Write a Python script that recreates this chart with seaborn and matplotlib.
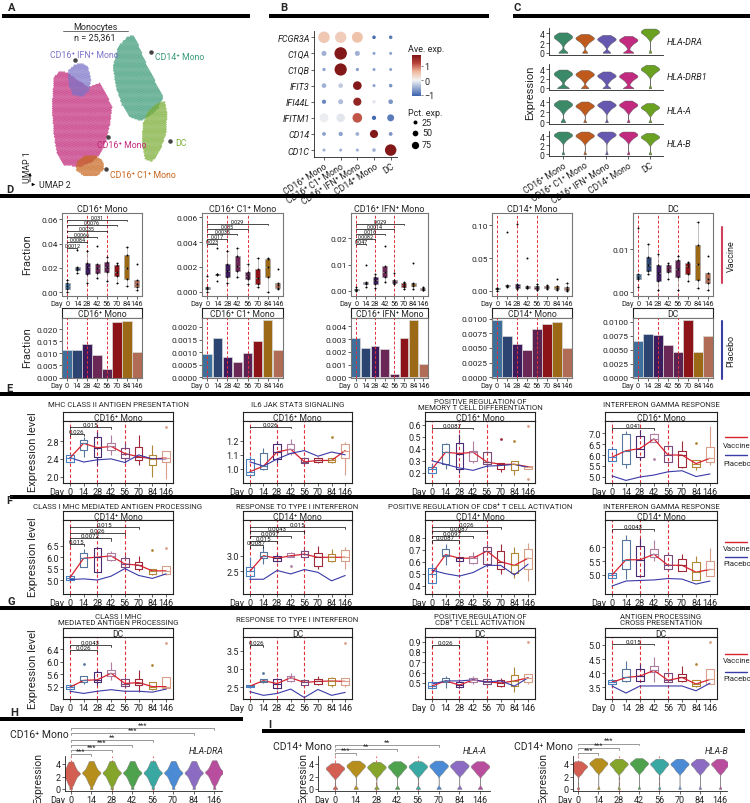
import numpy as np
import pandas as pd
import matplotlib
matplotlib.use("Agg")
import matplotlib.pyplot as plt
import matplotlib.transforms as mtransforms
from matplotlib.lines import Line2D
from matplotlib.patches import Rectangle
from matplotlib.path import Path
from matplotlib.colors import Normalize, LinearSegmentedColormap
from matplotlib.cm import ScalarMappable
from matplotlib.ticker import FormatStrFormatter
import seaborn as sns

# ======================= DATA =======================
DAYS = ["0", "14", "28", "42", "56", "70", "84", "146"]
CELL_TYPES = ["CD16⁺ Mono", "CD16⁺ C1⁺ Mono", "CD16⁺ IFN⁺ Mono", "CD14⁺ Mono", "DC"]

# ---- A: UMAP cluster outlines (UMAP layout units)
UMAP_CLUSTERS = ["CD16⁺ Mono", "CD16⁺ IFN⁺ Mono", "CD16⁺ C1⁺ Mono", "CD14⁺ Mono", "DC"]
umap_outline_cd16 = [(54, 78), (60, 72), (68, 74), (76, 80), (88, 88), (100, 84), (105, 92), (112, 108),
                     (110, 125), (106, 142), (100, 155), (92, 163), (80, 168), (64, 166), (57, 155),
                     (54, 135), (52, 110)]
umap_outline_ifn = [(68, 72), (74, 66), (82, 64), (88, 68), (91, 80), (89, 92), (82, 98), (73, 96), (69, 86)]
umap_outline_c1 = [(77, 163), (84, 157), (95, 156), (103, 162), (104, 170), (97, 177), (84, 177), (76, 171)]
umap_outline_cd14 = [(118, 48), (127, 38), (133, 36), (138, 45), (145, 62), (155, 82), (163, 98), (158, 110),
                     (148, 118), (140, 122), (130, 118), (122, 106), (116, 88), (113, 68)]
umap_outline_dc = [(148, 112), (158, 104), (165, 102), (167, 115), (166, 135), (160, 152), (152, 163),
                   (145, 160), (142, 145), (143, 125)]
UMAP_N = "n = 25,361"

# ---- B: dot plot
DOT_GENES = ["FCGR3A", "C1QA", "C1QB", "IFIT3", "IFI44L", "IFITM1", "CD14", "CD1C"]
ave_exp = [[0.45, 0.40, 0.50, -1.00, -0.90],
           [-0.50, 1.70, -0.50, -0.60, -0.60],
           [-0.60, 1.70, -0.60, -0.60, -0.60],
           [-0.50, -0.30, 1.70, -0.60, -0.70],
           [-0.80, -0.40, 1.55, -0.10, -0.70],
           [-0.05, -0.10, 1.10, -1.05, -0.90],
           [-0.60, -0.60, -0.50, 1.70, -0.70],
           [-0.50, -0.50, -0.50, -0.50, 1.70]]
pct_exp = [[72, 70, 65, 5, 5],
           [12, 85, 12, 3, 3],
           [4, 82, 4, 3, 3],
           [10, 10, 40, 3, 5],
           [8, 12, 35, 5, 10],
           [42, 38, 50, 8, 25],
           [6, 8, 6, 35, 6],
           [3, 3, 3, 5, 72]]

# ---- C: violin centres / zero counts
C_GENES = ["HLA-DRA", "HLA-DRB1", "HLA-A", "HLA-B"]
c_centers = [[3.3, 3.0, 2.8, 2.6, 4.3],
             [3.0, 2.9, 2.6, 2.5, 4.0],
             [3.6, 3.3, 3.5, 3.5, 3.0],
             [4.2, 4.1, 4.3, 4.3, 3.8]]
c_zero_counts = [[3, 1, 2, 3, 0],
                 [4, 2, 2, 3, 0],
                 [1, 0, 0, 0, 0],
                 [0, 0, 0, 0, 0]]
c_shape = [-1.3, -0.9, -0.6, -0.4, -0.25, -0.1, 0.0, 0.05, 0.15, 0.3, 0.45, 0.65, 0.9]

# ---- D: vaccine fractions (lo, q1, median, q3, hi per day)
d_vac_cd16 = [[0.000, 0.003, 0.005, 0.008, 0.010], [0.016, 0.018, 0.020, 0.021, 0.035],
              [0.008, 0.015, 0.021, 0.024, 0.034], [0.012, 0.016, 0.020, 0.023, 0.038],
              [0.009, 0.017, 0.021, 0.025, 0.029], [0.008, 0.013, 0.017, 0.022, 0.024],
              [0.005, 0.011, 0.020, 0.031, 0.037], [0.002, 0.004, 0.007, 0.010, 0.023]]
d_vac_c1 = [[0.0000, 0.0002, 0.0003, 0.0004, 0.0013], [0.0009, 0.00135, 0.0014, 0.00145, 0.0035],
            [0.0007, 0.0012, 0.0017, 0.0022, 0.0033], [0.0012, 0.0017, 0.0021, 0.0029, 0.0035],
            [0.0006, 0.0010, 0.0013, 0.0016, 0.0022], [0.0004, 0.0006, 0.0011, 0.0018, 0.0027],
            [0.0000, 0.0012, 0.0020, 0.0026, 0.0027], [0.0002, 0.0003, 0.0005, 0.0007, 0.0018]]
d_vac_ifn = [[0.0000, 0.0002, 0.0004, 0.0006, 0.0015], [0.0015, 0.0025, 0.0030, 0.0033, 0.0098],
             [0.0012, 0.0028, 0.0040, 0.0052, 0.0065], [0.0035, 0.0055, 0.0072, 0.0095, 0.0172],
             [0.0025, 0.0032, 0.0037, 0.0043, 0.0068], [0.0008, 0.0015, 0.0022, 0.0030, 0.0035],
             [0.0008, 0.0018, 0.0025, 0.0030, 0.0108], [0.0002, 0.0005, 0.0009, 0.0012, 0.0015]]
d_vac_cd14 = [[0.000, 0.002, 0.003, 0.004, 0.005], [0.006, 0.007, 0.008, 0.009, 0.090],
              [0.003, 0.005, 0.007, 0.010, 0.102], [0.004, 0.005, 0.006, 0.008, 0.050],
              [0.001, 0.003, 0.006, 0.008, 0.010], [0.002, 0.004, 0.006, 0.008, 0.009],
              [0.001, 0.003, 0.005, 0.007, 0.018], [0.000, 0.001, 0.003, 0.006, 0.012]]
d_vac_dc = [[0.0012, 0.0030, 0.0035, 0.0042, 0.0150], [0.0043, 0.0050, 0.0063, 0.0083, 0.0113],
            [0.0005, 0.0025, 0.0045, 0.0063, 0.0090], [0.0030, 0.0048, 0.0055, 0.0063, 0.0068],
            [0.0005, 0.0035, 0.0055, 0.0075, 0.0085], [0.0025, 0.0042, 0.0060, 0.0068, 0.0070],
            [0.0010, 0.0028, 0.0065, 0.0110, 0.0165], [0.0005, 0.0022, 0.0030, 0.0045, 0.0085]]
# placebo fractions
d_pbo_cd16 = [0.0113, 0.0116, 0.0140, 0.0095, 0.0035, 0.0230, 0.0235, 0.0105]
d_pbo_c1 = [0.00093, 0.00155, 0.00080, 0.00062, 0.00096, 0.00143, 0.00228, 0.00107]
d_pbo_ifn = [0.00305, 0.00230, 0.00243, 0.00220, 0.00030, 0.00310, 0.00450, 0.00105]
d_pbo_cd14 = [0.0098, 0.0071, 0.0057, 0.0047, 0.0083, 0.0090, 0.0095, 0.0050]
d_pbo_dc = [0.0065, 0.0078, 0.0077, 0.0058, 0.0045, 0.0103, 0.0045, 0.0074]
# p-values (end day index, label), all versus Day 0
d_p_cd16 = [(1, "0.0012"), (2, "0.0084"), (3, "0.0066"), (4, "0.0035"), (5, "0.0076"), (6, "0.031")]
d_p_c1 = [(1, "0.023"), (2, "0.017"), (3, "0.0035"), (4, "0.035"), (6, "0.029")]
d_p_ifn = [(1, "0.047"), (2, "0.0082"), (3, "0.016"), (4, "0.0014"), (5, "0.029")]

# ---- E/F/G: pathway scores (vaccine box stats), placebo line, p-values
e1_vac = [[2.30, 2.32, 2.42, 2.49, 2.50], [2.45, 2.60, 2.75, 2.82, 2.90], [2.26, 2.45, 2.65, 2.90, 3.00],
          [2.49, 2.60, 2.68, 2.75, 2.93], [2.30, 2.41, 2.52, 2.64, 2.75], [2.26, 2.37, 2.45, 2.67, 2.93],
          [2.00, 2.26, 2.40, 2.49, 2.71], [1.96, 2.32, 2.42, 2.58, 3.12]]
e1_pbo = [2.43, 2.33, 2.38, 2.40, 2.32, 2.49, 2.40, 2.40]
e1_p = [(1, "0.026"), (3, "0.015")]
e2_vac = [[0.96, 0.96, 0.98, 1.07, 1.09], [0.99, 1.00, 1.02, 1.11, 1.15], [1.04, 1.07, 1.12, 1.175, 1.20],
          [1.10, 1.11, 1.14, 1.175, 1.21], [1.035, 1.04, 1.05, 1.08, 1.085], [1.045, 1.05, 1.06, 1.08, 1.085],
          [1.045, 1.05, 1.06, 1.075, 1.225], [0.96, 1.08, 1.13, 1.175, 1.19]]
e2_pbo = [1.05, 1.02, 1.07, 1.11, 1.13, 1.09, 1.12, 1.10]
e2_p = [(3, "0.026")]
e3_vac = [[0.19, 0.20, 0.23, 0.25, 0.27], [0.23, 0.27, 0.37, 0.44, 0.45], [0.20, 0.23, 0.36, 0.45, 0.52],
          [0.28, 0.30, 0.37, 0.38, 0.46], [0.24, 0.27, 0.29, 0.37, 0.38], [0.21, 0.23, 0.27, 0.28, 0.48],
          [0.18, 0.22, 0.27, 0.30, 0.46], [0.15, 0.23, 0.25, 0.26, 0.59]]
e3_pbo = [0.30, 0.27, 0.24, 0.22, 0.255, 0.26, 0.27, 0.245]
e3_p = [(3, "0.0087")]
e4_vac = [[5.70, 5.73, 5.90, 6.29, 6.35], [5.38, 5.60, 6.20, 6.97, 7.10], [5.75, 5.90, 6.30, 6.90, 7.15],
          [5.83, 6.60, 6.75, 6.97, 7.00], [5.65, 5.68, 6.00, 6.40, 6.45], [5.38, 5.45, 6.00, 6.18, 6.67],
          [5.30, 5.45, 5.60, 5.79, 6.55], [5.53, 5.68, 5.85, 6.36, 7.35]]
e4_pbo = [5.03, 4.82, 4.98, 5.07, 5.22, 5.27, 5.00, 5.12]
e4_p = [(3, "0.041")]
f1_vac = [[5.00, 5.02, 5.10, 5.19, 5.22], [5.55, 5.58, 5.95, 6.20, 6.35], [5.30, 5.33, 6.00, 6.38, 6.42],
          [5.85, 5.87, 6.05, 6.20, 6.25], [5.48, 5.58, 5.70, 5.96, 6.10], [5.38, 5.48, 5.65, 5.77, 6.06],
          [5.24, 5.26, 5.40, 5.48, 6.30], [5.20, 5.26, 5.40, 5.63, 6.40]]
f1_pbo = [5.02, 5.05, 5.00, 5.17, 5.50, 5.20, 5.07, 5.27]
f1_p = [(1, "0.015"), (3, "0.0072"), (4, "0.026"), (5, "0.015")]
f2_vac = [[2.25, 2.36, 2.50, 2.63, 2.95], [2.73, 2.93, 3.00, 3.13, 3.27], [2.80, 2.84, 2.92, 3.00, 3.05],
          [2.68, 2.95, 3.00, 3.10, 3.13], [2.95, 2.97, 3.05, 3.16, 3.20], [2.57, 2.68, 2.95, 3.10, 3.32],
          [2.80, 2.84, 2.95, 3.05, 3.22], [2.57, 2.84, 2.95, 3.18, 3.27]]
f2_pbo = [2.25, 2.25, 2.53, 2.42, 2.56, 2.47, 2.20, 2.37]
f2_p = [(1, "0.0087"), (2, "0.015"), (3, "0.0097"), (4, "0.0043"), (7, "0.015")]
f3_vac = [[0.41, 0.42, 0.50, 0.55, 0.58], [0.57, 0.65, 0.66, 0.71, 0.75], [0.60, 0.61, 0.63, 0.64, 0.65],
          [0.58, 0.59, 0.63, 0.65, 0.68], [0.56, 0.58, 0.69, 0.72, 0.75], [0.50, 0.54, 0.60, 0.69, 0.75],
          [0.46, 0.51, 0.57, 0.67, 0.72], [0.44, 0.54, 0.63, 0.71, 0.76]]
f3_pbo = [0.53, 0.50, 0.48, 0.51, 0.57, 0.57, 0.49, 0.58]
f3_p = [(2, "0.0087"), (3, "0.0097"), (4, "0.0087"), (5, "0.026")]
f4_vac = [[4.87, 4.89, 5.00, 5.06, 5.10], [4.86, 5.22, 5.55, 6.26, 6.46], [4.98, 4.98, 5.55, 6.06, 6.33],
          [5.52, 5.66, 5.75, 5.94, 6.26], [5.18, 5.22, 5.35, 5.73, 5.80], [5.13, 5.13, 5.35, 5.58, 5.76],
          [4.80, 4.80, 5.10, 5.46, 5.70], [4.98, 4.98, 5.20, 5.52, 5.98]]
f4_pbo = [4.60, 4.78, 4.80, 4.82, 4.87, 4.85, 4.67, 4.78]
f4_p = [(3, "0.0043")]
g1_vac = [[5.10, 5.12, 5.18, 5.25, 5.28], [5.30, 5.34, 5.40, 5.53, 5.93], [5.25, 5.34, 5.42, 5.66, 5.75],
          [5.40, 5.53, 5.63, 5.75, 6.00], [5.15, 5.21, 5.30, 5.45, 5.50], [5.02, 5.25, 5.33, 5.45, 5.74],
          [5.10, 5.12, 5.20, 5.34, 5.90], [5.12, 5.15, 5.20, 5.50, 6.60]]
g1_pbo = [5.05, 4.98, 5.05, 5.10, 5.05, 5.05, 5.02, 5.12]
g1_p = [(2, "0.026"), (3, "0.0043")]
g2_vac = [[2.49, 2.50, 2.53, 2.56, 2.57], [2.62, 2.64, 2.68, 2.73, 2.88], [2.45, 2.47, 2.60, 2.73, 2.75],
          [2.65, 2.68, 2.76, 2.82, 2.90], [2.55, 2.56, 2.63, 2.70, 2.72], [2.55, 2.59, 2.66, 2.73, 2.82],
          [2.52, 2.56, 2.67, 2.75, 2.79], [2.50, 2.55, 2.66, 2.75, 3.70]]
g2_pbo = [2.38, 2.28, 2.33, 2.45, 2.22, 2.44, 2.28, 2.36]
g2_p = [(1, "0.026")]
g3_vac = [[0.44, 0.45, 0.47, 0.51, 0.52], [0.45, 0.51, 0.52, 0.55, 0.57], [0.45, 0.46, 0.48, 0.51, 0.52],
          [0.49, 0.51, 0.53, 0.55, 0.57], [0.48, 0.49, 0.51, 0.54, 0.55], [0.46, 0.47, 0.50, 0.53, 0.55],
          [0.41, 0.47, 0.52, 0.58, 0.65], [0.49, 0.51, 0.55, 0.59, 0.90]]
g3_pbo = [0.49, 0.52, 0.52, 0.53, 0.51, 0.52, 0.47, 0.55]
g3_p = [(2, "0.026")]
g4_vac = [[3.60, 3.62, 3.68, 3.77, 3.80], [3.68, 3.74, 3.85, 4.15, 4.44], [3.68, 3.74, 3.90, 4.15, 4.33],
          [3.70, 4.03, 4.10, 4.26, 4.56], [3.68, 3.70, 3.75, 4.00, 4.05], [3.70, 3.74, 3.85, 3.97, 4.26],
          [3.52, 3.56, 3.62, 3.77, 4.32], [3.62, 3.62, 3.78, 4.15, 5.10]]
g4_pbo = [3.55, 3.30, 3.55, 3.55, 3.55, 3.55, 3.38, 3.65]
g4_p = [(3, "0.015")]

# ---- H / I: violin centres by day
h_centers = [2.5, 2.6, 2.6, 2.6, 2.6, 2.6, 2.6, 2.7]
h_zero_counts = [0, 0, 0, 0, 0, 0, 0, 0]
h_shape = [-1.9, -1.6, -1.35, -1.15, -0.95, -0.8, -0.65, -0.5, -0.38, -0.25, -0.12, -0.05, 0.0,
           0.05, 0.12, 0.25, 0.38, 0.5, 0.65, 0.8, 0.95, 1.15, 1.35, 1.6, 1.9]
h_p = [(1, "***"), (2, "***"), (3, "***"), (4, "**"), (6, "***"), (7, "***")]
i1_centers = [3.3, 3.7, 3.5, 3.6, 3.6, 3.7, 3.7, 3.6]
i1_zero_counts = [1, 1, 1, 1, 1, 1, 1, 1]
i1_p = [(1, "***"), (3, "**"), (5, "**")]
i2_centers = [3.6, 4.1, 4.0, 4.1, 4.0, 4.0, 4.0, 4.0]
i2_zero_counts = [0, 0, 0, 0, 0, 0, 0, 0]
i2_p = [(1, "***"), (2, "***"), (3, "***")]
i_shape = [-1.3, -1.1, -0.9, -0.75, -0.6, -0.48, -0.36, -0.25, -0.15, -0.07, 0.0, 0.05, 0.12, 0.2,
           0.3, 0.42, 0.55, 0.7, 0.85]

# ======================= STYLE =======================
sns.set_theme(style="ticks")
plt.rcParams["font.family"] = ["Roboto", "DejaVu Sans"]
plt.rcParams.update({
    "axes.linewidth": 0.6, "axes.edgecolor": "#222222",
    "xtick.major.width": 0.5, "ytick.major.width": 0.5,
    "xtick.major.size": 2, "ytick.major.size": 2,
    "xtick.major.pad": 1, "ytick.major.pad": 1,
    "xtick.color": "#222222", "ytick.color": "#222222",
})

UMAP_COLORS = ["#c2287a", "#7b73c8", "#c8661e", "#3b9a78", "#7aae35"]
C_COLORS = ["#3a8a68", "#c05a1c", "#6658b0", "#c22a80", "#6aa121"]
DAY_FILL = ["#3f6f9b", "#2c4472", "#3c1c5c", "#6b2857", "#5c2352", "#8c1418", "#9c6a16", "#b06c55"]
DAY_EDGE = ["#4a80bd", "#56789f", "#4a2a70", "#b07ea2", "#7a4a7a", "#a02838", "#b08838", "#d8a088"]
H_COLORS = ["#d35f52", "#b58e1b", "#85a52a", "#4ea24e", "#3aa8a2", "#4b8bd6", "#8b6cc2", "#ba4e9e"]
RED_DASH = "#e0303a"
VAC_RED = "#d8232f"
PBO_BLUE = "#3a3aa8"

W, H = 750, 804
fig = plt.figure(figsize=(7.5, 8.04), dpi=100)


def px_ax(x0, y0, x1, y1):
    return fig.add_axes([x0 / W, 1 - y1 / H, (x1 - x0) / W, (y1 - y0) / H])


def ftext(x, y, s, **kw):
    fig.text(x / W, 1 - y / H, s, **kw)


def fbar(x0, x1, y, h=4.0):
    fig.add_artist(Rectangle((x0 / W, 1 - (y + h / 2) / H), (x1 - x0) / W, h / H,
                             transform=fig.transFigure, color="black", lw=0))


def fline(xs, ys, **kw):
    fig.add_artist(Line2D([x / W for x in xs], [1 - y / H for y in ys], transform=fig.transFigure, **kw))


def day_axis(ax, fs=6.2):
    ax.set_xticks(range(len(DAYS)))
    ax.set_xticklabels(DAYS, fontsize=fs)
    tr = mtransforms.blended_transform_factory(ax.transData, ax.transAxes) + \
        mtransforms.ScaledTranslation(-fs * 0.62 / 72, -3.0 / 72, fig.dpi_scale_trans)
    ax.text(0, 0, "Day", transform=tr, ha="right", va="top", fontsize=fs)


def strip(x0, x1, y0, y1, text, fs=6.2):
    sa = px_ax(x0, y0, x1, y1)
    sa.set_xticks([])
    sa.set_yticks([])
    sa.set_facecolor("white")
    for s in sa.spines.values():
        s.set_color("#222222")
        s.set_linewidth(0.8)
    sa.text(0.5, 0.42, text, ha="center", va="center", fontsize=fs, transform=sa.transAxes)


def bracket(ax, x1, y, label, tip, fs=4.6, color="black", x0=0):
    ax.plot([x0, x0, x1, x1], [y - tip, y, y, y - tip], color=color, lw=0.5, clip_on=False)
    ax.text((x0 + x1) / 2, y, label, ha="center", va="bottom", fontsize=fs, color="#111111",
            linespacing=0.8)


def long_df(stats):
    rows = []
    for i, vals in enumerate(stats):
        for v in vals:
            rows.append({"day": DAYS[i], "pos": i, "val": v})
    return pd.DataFrame(rows)


# ======================= SECTION BARS & LETTERS =======================
for (x0, x1, y) in [(2, 250, 17), (269, 489, 17), (513, 750, 17), (0, 750, 197), (0, 750, 395),
                    (10, 750, 498), (0, 750, 609), (0, 243, 720), (262, 745, 732)]:
    fbar(x0, x1, y)
for (x, y, s) in [(8, 8, "A"), (280, 8, "B"), (513, 8, "C"), (6, 190, "D"), (6, 389, "E"),
                  (6, 501, "F"), (8, 602, "G"), (10, 713, "H"), (268, 725, "I")]:
    ftext(x, y, s, fontsize=8, fontweight="bold", va="center", ha="left")

# ======================= A: UMAP =======================
axA = px_ax(0, 22, 250, 192)


def grid_in(outline, step=1.3):
    path = Path(outline)
    xs = [p[0] for p in outline]
    ys = [p[1] for p in outline]
    gx = np.arange(min(xs), max(xs) + step, step)
    gy = np.arange(min(ys), max(ys) + step, step * 0.87)
    X, Y = np.meshgrid(gx, gy)
    X = X + (np.arange(len(gy))[:, None] % 2) * step / 2
    pts = np.column_stack([X.ravel(), Y.ravel()])
    return pts[path.contains_points(pts)]


outlines = [umap_outline_cd16, umap_outline_ifn, umap_outline_c1, umap_outline_cd14, umap_outline_dc]
frames = []
for name, outl in zip(UMAP_CLUSTERS, outlines):
    pts = grid_in(outl)
    frames.append(pd.DataFrame({"u2": pts[:, 0], "u1": pts[:, 1], "cluster": name}))
umap_df = pd.concat(frames, ignore_index=True)
sns.scatterplot(data=umap_df, x="u2", y="u1", hue="cluster", hue_order=UMAP_CLUSTERS,
                palette=UMAP_COLORS, s=1.2, linewidth=0, alpha=0.75, legend=False, ax=axA)
axA.set_xlim(0, 250)
axA.set_ylim(192, 22)
axA.axis("off")
umap_labels = [("CD16⁺ IFN⁺ Mono", (75, 61), (50, 55), "left", UMAP_COLORS[1]),
               ("CD14⁺ Mono", (151, 53), (155, 57), "left", UMAP_COLORS[3]),
               ("CD16⁺ Mono", (108, 138), (97, 146), "left", UMAP_COLORS[0]),
               ("DC", (170, 142), (175, 143), "left", UMAP_COLORS[4]),
               ("CD16⁺ C1⁺ Mono", (106, 170), (110, 176), "left", UMAP_COLORS[2])]
for txt, dot, pos, ha, col in umap_labels:
    axA.scatter([dot[0]], [dot[1]], s=5, color="#444444", zorder=5)
    axA.text(pos[0], pos[1], txt, color=col, fontsize=6.3, ha=ha, va="center", zorder=6)
ftext(95, 27, "Monocytes", ha="center", va="center", fontsize=6.5)
fline([63, 128], [32, 32], color="#555555", lw=0.6)
ftext(95, 38, UMAP_N, ha="center", va="center", fontsize=6.5)
axA.annotate("", xy=(30, 171), xytext=(30, 185.5), arrowprops=dict(arrowstyle="-|>", lw=0.6, color="black",
                                                                    mutation_scale=4))
axA.annotate("", xy=(38, 185.5), xytext=(29.7, 185.5), arrowprops=dict(arrowstyle="-|>", lw=0.6,
                                                                       color="black", mutation_scale=4))
axA.text(27, 167, "UMAP 1", rotation=90, ha="center", va="center", fontsize=6.3)
axA.text(39, 186, "UMAP 2", ha="left", va="center", fontsize=6.3)

# ======================= B: dot plot =======================
axB = px_ax(314, 32, 397, 158)
dot_rows = []
for gi, g in enumerate(DOT_GENES):
    for ci, c in enumerate(CELL_TYPES):
        dot_rows.append({"xi": ci, "yi": gi, "ave": ave_exp[gi][ci], "pct": pct_exp[gi][ci]})
dot_df = pd.DataFrame(dot_rows)
dot_cmap = LinearSegmentedColormap.from_list(
    "avexp", [(0, "#3a62ad"), (0.386, "#f4f4f4"), (0.6, "#eeb79c"), (0.8, "#b8443a"), (1, "#7f1416")])
dot_norm = Normalize(vmin=-1.1, vmax=1.75)
sns.scatterplot(data=dot_df, x="xi", y="yi", hue="ave", size="pct", palette=dot_cmap, hue_norm=dot_norm,
                sizes=(2, 85), size_norm=(0, 90), linewidth=0, legend=False, ax=axB)
axB.set_xlim(-0.6, 4.38)
axB.set_ylim(7.43, -0.39)
axB.set_yticks(range(len(DOT_GENES)))
axB.set_yticklabels(DOT_GENES, fontsize=6.5, fontstyle="italic")
axB.set_xticks(range(len(CELL_TYPES)))
axB.set_xticklabels(CELL_TYPES, fontsize=6.3, rotation=33, ha="right", rotation_mode="anchor")
axB.set_xlabel("")
axB.set_ylabel("")
sns.despine(ax=axB)
cax = px_ax(412, 56, 421, 97)
cb = fig.colorbar(ScalarMappable(norm=dot_norm, cmap=dot_cmap), cax=cax, ticks=[-1, 0, 1])
cb.outline.set_visible(False)
cax.tick_params(labelsize=6.5, length=1.5, width=0.4, pad=1)
ftext(408, 50, "Ave. exp.", fontsize=6.5, va="center")
ftext(408, 113, "Pct. exp.", fontsize=6.5, va="center")
legB = px_ax(405, 117, 450, 152)
legB.set_xlim(0, 45)
legB.set_ylim(35, 0)
legB.axis("off")
for val, yy, sz in [(25, 6, 8.3), (50, 17, 16.8), (75, 29, 27.6)]:
    legB.scatter([10], [yy], s=sz, color="black", linewidth=0)
    legB.text(17, yy, str(val), fontsize=6.5, va="center")

# ======================= C: stacked violins =======================
c_rows_px = [(29.3, 55.5), (65, 91), (98.3, 125), (132.3, 157)]
for r, gene in enumerate(C_GENES):
    axc = px_ax(549, c_rows_px[r][0], 663, c_rows_px[r][1])
    rows = []
    for ci, ct in enumerate(CELL_TYPES):
        vals = [min(c_centers[r][ci] + s, 5.0) for s in c_shape] + [0.0] * (c_zero_counts[r][ci] + 1)
        for v in vals:
            rows.append({"ct": ct, "val": max(v, 0.0)})
    cdf = pd.DataFrame(rows)
    sns.violinplot(data=cdf, x="ct", y="val", hue="ct", order=CELL_TYPES, hue_order=CELL_TYPES,
                   palette=C_COLORS, saturation=1, inner=None, cut=0, density_norm="width",
                   bw_adjust=0.55, width=0.85, linewidth=0.3, linecolor="#555555", legend=False, ax=axc)
    axc.set_xlim(-0.64, 4.6)
    axc.set_ylim(-0.35, 5.05)
    axc.set_yticks([0, 2, 4])
    axc.tick_params(axis="y", labelsize=6.2)
    axc.set_xlabel("")
    axc.set_ylabel("")
    sns.despine(ax=axc)
    if r < 3:
        axc.set_xticks([])
    else:
        axc.set_xticks(range(5))
        axc.set_xticklabels(CELL_TYPES, fontsize=6.2, rotation=33, ha="right", rotation_mode="anchor")
    ftext(667, (c_rows_px[r][0] + c_rows_px[r][1]) / 2, gene, fontsize=6.5, fontstyle="italic", va="center")
ftext(530, 93, "Expression", rotation=90, ha="center", va="center", fontsize=8)

# ======================= D: fractions =======================
D_X = [(62, 142), (202, 283), (351, 428), (492, 572), (633, 713)]
d_vac = [d_vac_cd16, d_vac_c1, d_vac_ifn, d_vac_cd14, d_vac_dc]
d_pbo = [d_pbo_cd16, d_pbo_c1, d_pbo_ifn, d_pbo_cd14, d_pbo_dc]
d_pv = [d_p_cd16, d_p_c1, d_p_ifn, [], []]
d_top_ylim = [(-0.003, 0.065), (-0.00035, 0.00635), (-0.0019, 0.0296), (-0.008, 0.119), (-0.0009, 0.0185)]
d_top_ticks = [[0, 0.02, 0.04, 0.06], [0, 0.002, 0.004, 0.006], [0, 0.01, 0.02], [0, 0.05, 0.10], [0, 0.01]]
d_top_fmt = ["%.2f", "%.3f", "%.2f", "%.2f", "%.2f"]
d_br = [(0.0364, 0.0046), (0.00385, 0.0004), (0.018, 0.0019), None, None]
d_bot_ylim = [(-0.0002, 0.0247), (-0.00002, 0.00235), (-0.00004, 0.00465), (-0.0001, 0.0101), (-0.0001, 0.0107)]
d_bot_ticks = [[0, 0.005, 0.010, 0.015, 0.020], [0, 0.0005, 0.0010, 0.0015, 0.0020],
               [0, 0.001, 0.002, 0.003, 0.004], [0, 0.0025, 0.005, 0.0075, 0.01], [0, 0.0025, 0.005, 0.0075, 0.01]]
d_bot_fmt = ["%.3f", "%.4f", "%.3f", "%.4f", "%.4f"]

for k in range(5):
    x0, x1 = D_X[k]
    ax = px_ax(x0, 214, x1, 297)
    df = long_df(d_vac[k])
    sns.boxplot(data=df, x="day", y="val", hue="day", order=DAYS, hue_order=DAYS, palette=DAY_FILL,
                saturation=1, width=0.5, linewidth=0.5, linecolor="#a8a8a8", fliersize=0,
                legend=False, ax=ax)
    sns.stripplot(data=df, x="day", y="val", order=DAYS, color="black", size=1.4, jitter=False, ax=ax)
    for p in (0, 2, 4):
        ax.axvline(p, color=RED_DASH, lw=0.7, ls=(0, (3, 2)), zorder=0)
    ax.set_ylim(*d_top_ylim[k])
    ax.set_xlim(-0.55, 7.55)
    ax.set_yticks(d_top_ticks[k])
    ax.yaxis.set_major_formatter(FormatStrFormatter(d_top_fmt[k]))
    ax.tick_params(axis="y", labelsize=6.0)
    day_axis(ax, fs=5.3)
    ax.set_xlabel("")
    ax.set_ylabel("")
    for s in ax.spines.values():
        s.set_color("#777777")
        s.set_linewidth(0.8)
    ax.set_title(CELL_TYPES[k], fontsize=6.5, pad=1.5)
    if d_br[k] is not None:
        rng = d_top_ylim[k][1] - d_top_ylim[k][0]
        for j, (end, lab) in enumerate(d_pv[k]):
            bracket(ax, end, d_br[k][0] + j * d_br[k][1], lab, rng * 0.012, fs=3.9)

    # placebo bars
    strip(x0, x1, 309, 319, CELL_TYPES[k])
    axb = px_ax(x0, 319, x1, 379)
    sns.barplot(x=DAYS, y=d_pbo[k], hue=DAYS, order=DAYS, hue_order=DAYS, palette=DAY_FILL, saturation=1,
                width=0.92, edgecolor="#d8d8d8", linewidth=0.5, legend=False, ax=axb)
    for p in (0, 2, 4):
        axb.axvline(p, color=RED_DASH, lw=0.7, ls=(0, (3, 2)), zorder=5)
    axb.set_ylim(*d_bot_ylim[k])
    axb.set_xlim(-0.5, 7.5)
    axb.set_yticks(d_bot_ticks[k])
    axb.yaxis.set_major_formatter(FormatStrFormatter(d_bot_fmt[k]))
    axb.tick_params(axis="y", labelsize=6.0)
    day_axis(axb, fs=5.3)
    axb.set_xlabel("")
    axb.set_ylabel("")
    for s in axb.spines.values():
        s.set_color("#777777")
        s.set_linewidth(0.8)

ftext(27, 255, "Fraction", rotation=90, ha="center", va="center", fontsize=8)
ftext(27, 348, "Fraction", rotation=90, ha="center", va="center", fontsize=8)
fline([722, 722], [228, 284], color="#d0405a", lw=1.5)
ftext(731, 256, "Vaccine", rotation=90, ha="center", va="center", fontsize=6.5)
fline([722, 722], [322, 380], color="#3a3fa8", lw=1.5)
ftext(731, 351, "Placebo", rotation=90, ha="center", va="center", fontsize=6.5)

# ======================= E / F / G: pathway scores =======================
COLS = [(63, 173), (243, 352), (425, 535), (605, 717)]
ROWS = {"E": (413, 422, 484, 405), "F": (512, 521, 595, 507), "G": (629, 638, 700, 620)}
PATH_PANELS = [
    ("E", 0, "MHC CLASS II ANTIGEN PRESENTATION", "CD16⁺ Mono", e1_vac, e1_pbo, e1_p, (1.86, 3.25), [2.0, 2.4, 2.8], 2.95, 0.17),
    ("E", 1, "IL6 JAK STAT3 SIGNALING", "CD16⁺ Mono", e2_vac, e2_pbo, e2_p, (0.90, 1.34), [1.0, 1.1, 1.2], 1.30, 0.0),
    ("E", 2, "POSITIVE REGULATION OF\nMEMORY T CELL DIFFERENTIATION", "CD16⁺ Mono", e3_vac, e3_pbo, e3_p, (0.115, 0.63), [0.2, 0.3, 0.4, 0.5, 0.6], 0.575, 0.0),
    ("E", 3, "INTERFERON GAMMA RESPONSE", "CD16⁺ Mono", e4_vac, e4_pbo, e4_p, (4.7, 7.58), [5.0, 5.5, 6.0, 6.5, 7.0], 7.25, 0.0),
    ("F", 0, "CLASS I MHC MEDIATED ANTIGEN PROCESSING", "CD14⁺ Mono", f1_vac, f1_pbo, f1_p, (4.39, 7.62), [5.0, 5.5, 6.0, 6.5], 6.57, 0.25),
    ("F", 1, "RESPONSE TO TYPE I INTERFERON", "CD14⁺ Mono", f2_vac, f2_pbo, f2_p, (1.78, 4.14), [2.5, 3.0], 3.33, 0.15),
    ("F", 2, "POSITIVE REGULATION OF CD8⁺ T CELL ACTIVATION", "CD14⁺ Mono", f3_vac, f3_pbo, f3_p, (0.33, 0.95), [0.4, 0.5, 0.6, 0.7, 0.8], 0.78, 0.037),
    ("F", 3, "INTERFERON GAMMA RESPONSE", "CD14⁺ Mono", f4_vac, f4_pbo, f4_p, (4.31, 6.99), [5.0, 5.5, 6.0], 6.66, 0.0),
    ("G", 0, "CLASS I MHC\nMEDIATED ANTIGEN PROCESSING", "DC", g1_vac, g1_pbo, g1_p, (4.8, 6.8), [5.2, 5.6, 6.0, 6.4], 6.37, 0.16),
    ("G", 1, "RESPONSE TO TYPE I INTERFERON", "DC", g2_vac, g2_pbo, g2_p, (2.18, 3.87), [2.5, 3.0, 3.5], 3.66, 0.0),
    ("G", 2, "POSITIVE REGULATION OF\nCD8⁺ T CELL ACTIVATION", "DC", g3_vac, g3_pbo, g3_p, (0.345, 0.945), [0.5, 0.6, 0.7, 0.8, 0.9], 0.87, 0.0),
    ("G", 3, "ANTIGEN PROCESSING\nCROSS PRESENTATION", "DC", g4_vac, g4_pbo, g4_p, (3.09, 5.28), [3.5, 4.0, 4.5, 5.0], 5.05, 0.0),
]
for (row, col, title, stripname, vac, pbo, pv, ylim, yticks, b0, bstep) in PATH_PANELS:
    ys, ya, yb, yt = ROWS[row]
    x0, x1 = COLS[col]
    ftext((x0 + x1) / 2, yt, title, ha="center", va="center", fontsize=5.6, linespacing=1.05)
    strip(x0, x1, ys, ya, stripname)
    ax = px_ax(x0, ya, x1, yb)
    df = long_df(vac)
    for p in (0, 2, 4):
        ax.axvline(p, color=RED_DASH, lw=0.8, ls=(0, (3, 2)), zorder=0)
    sns.boxplot(data=df, x="day", y="val", hue="day", order=DAYS, hue_order=DAYS, palette=DAY_EDGE,
                saturation=1, fill=False, width=0.55, linewidth=0.8, fliersize=1.0,
                capprops={"linewidth": 0}, legend=False, ax=ax)
    sns.lineplot(data=df, x="pos", y="val", estimator="median", errorbar=None, color=VAC_RED, lw=0.9, ax=ax)
    sns.lineplot(x=list(range(len(DAYS))), y=pbo, color=PBO_BLUE, lw=0.8, ax=ax)
    rng = ylim[1] - ylim[0]
    for j, (end, lab) in enumerate(pv):
        bracket(ax, end, b0 + j * bstep, lab, rng * 0.03, fs=4.4)
    ax.set_ylim(*ylim)
    ax.set_xlim(-0.5, 7.5)
    ax.set_yticks(yticks)
    ax.yaxis.set_major_formatter(FormatStrFormatter("%.1f"))
    ax.tick_params(axis="y", labelsize=6.5)
    day_axis(ax, fs=6.5)
    ax.set_xlabel("")
    ax.set_ylabel("")
    for s in ax.spines.values():
        s.set_color("#222222")
        s.set_linewidth(0.8)

for yc in (452, 557, 669):
    ftext(33, yc, "Expression level", rotation=90, ha="center", va="center", fontsize=8)
for (yr, yv, yb_, yp) in [(438, 446, 456, 464), (543, 549, 558, 564), (655, 661, 673, 679)]:
    fline([725, 747], [yr, yr], color=VAC_RED, lw=1.0)
    ftext(723, yv, "Vaccine", fontsize=5.6, va="center")
    fline([725, 747], [yb_, yb_], color=PBO_BLUE, lw=1.0)
    ftext(723, yp, "Placebo", fontsize=5.6, va="center")


# ======================= H / I: violins by day =======================
def day_violin(x0, x1, centers, zeros, shape, xlim, pv, br_px, title, title_x, title_y, gene, gene_x, ylab_x):
    ax = px_ax(x0, 757, x1, 792)
    rows = []
    for i, d in enumerate(DAYS):
        vals = [min(centers[i] + s, 5.0) for s in shape] + [0.0] * (zeros[i] + 1)
        for v in vals:
            rows.append({"day": d, "val": max(v, 0.0)})
    vdf = pd.DataFrame(rows)
    for p in (0, 2, 4):
        ax.axvline(p, color="#e87070", lw=0.8, ls=(0, (3, 2)), zorder=0)
    sns.violinplot(data=vdf, x="day", y="val", hue="day", order=DAYS, hue_order=DAYS, palette=H_COLORS,
                   saturation=1, inner=None, cut=0, density_norm="width", bw_adjust=0.45, width=0.9,
                   linewidth=0.3, linecolor="#777777", legend=False, ax=ax)
    ax.set_xlim(*xlim)
    ax.set_ylim(-0.32, 5.28)
    ax.set_yticks([0, 2, 4])
    ax.tick_params(axis="y", labelsize=6.5)
    day_axis(ax, fs=6.5)
    ax.set_xlabel("")
    ax.set_ylabel("")
    sns.despine(ax=ax)
    tr = mtransforms.blended_transform_factory(ax.transData, ax.transAxes)
    for (end, lab), ypx in zip(pv, br_px):
        yf = (792 - ypx) / 35.0
        ax.plot([0, 0, end, end], [yf - 0.05, yf, yf, yf - 0.05], transform=tr, color="#888888",
                lw=0.6, clip_on=False)
        ax.text(end / 2, yf - 0.02, lab, transform=tr, ha="center", va="bottom", fontsize=5.2, clip_on=False)
    ftext(title_x, title_y, title, fontsize=7.5, ha="left", va="center")
    ftext(gene_x, 752, gene, fontsize=6.3, fontstyle="italic", ha="center", va="center")
    ftext(ylab_x, 779, "Expression", rotation=90, ha="center", va="center", fontsize=7.5)


day_violin(65, 222, h_centers, h_zero_counts, h_shape, (-0.28, 7.38), h_p,
           [755, 751, 746, 741, 734, 729], "CD16⁺ Mono", 10, 735, "HLA-DRA", 206, 38)
day_violin(318, 490, i1_centers, i1_zero_counts, i_shape, (-0.82, 7.48), i1_p,
           [754, 750, 746], "CD14⁺ Mono", 273, 747, "HLA-A", 475, 303)
day_violin(573, 727, i2_centers, i2_zero_counts, i_shape, (-0.25, 7.34), i2_p,
           [754, 749, 744.5], "CD14⁺ Mono", 514, 747, "HLA-B", 717, 543)

fig.savefig("out.png", dpi=100)
